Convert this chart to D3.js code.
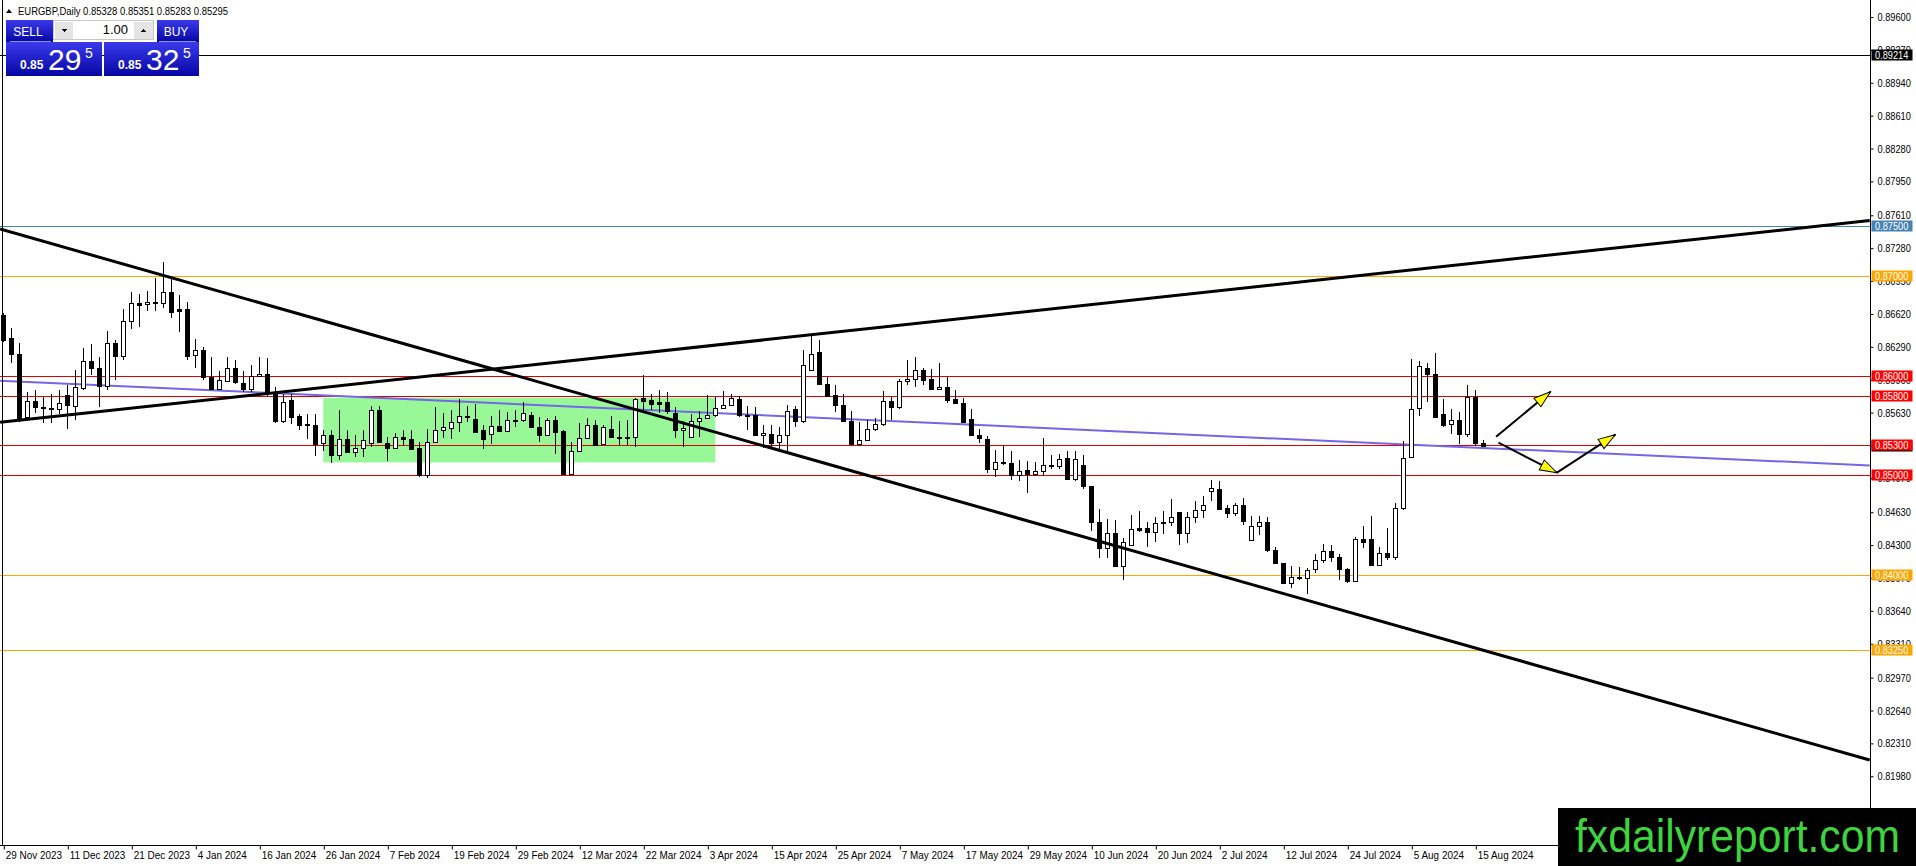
<!DOCTYPE html>
<html>
<head>
<meta charset="utf-8">
<script src="https://cdn.jsdelivr.net/npm/d3@7"></script>
<style>
  body { margin: 0; background: #fff; overflow: hidden; }
  svg { display: block; font-family: "Liberation Sans", Arial, sans-serif; }
</style>
</head>
<body>
<svg id="chart" width="1916" height="866"></svg>
<script>
// ---- data ----
var symbol = "EURGBP,Daily";
var quote = [0.85328, 0.85351, 0.85283, 0.85295];
var sellQuote = ["0.85", "29", "5"];
var buyQuote = ["0.85", "32", "5"];
var lotSize = "1.00";

var dateLabels = ["29 Nov 2023", "11 Dec 2023", "21 Dec 2023", "4 Jan 2024", "16 Jan 2024", "26 Jan 2024",
  "7 Feb 2024", "19 Feb 2024", "29 Feb 2024", "12 Mar 2024", "22 Mar 2024", "3 Apr 2024", "15 Apr 2024",
  "25 Apr 2024", "7 May 2024", "17 May 2024", "29 May 2024", "10 Jun 2024", "20 Jun 2024", "2 Jul 2024",
  "12 Jul 2024", "24 Jul 2024", "5 Aug 2024", "15 Aug 2024"];

var priceTicks = [0.89600, 0.89270, 0.88940, 0.88610, 0.88280, 0.87950, 0.87610, 0.87280, 0.86950,
  0.86620, 0.86290, 0.85960, 0.85630, 0.85300, 0.84970, 0.84630, 0.84300, 0.83970, 0.83640, 0.83310,
  0.82970, 0.82640, 0.82310, 0.81980];

var opens = [0.8661,0.8638,0.8622,0.8559,0.8575,0.8569,0.8568,0.8567,0.8581,0.8570,
  0.8588,0.8615,0.8608,0.8590,0.8633,0.8620,0.8655,0.8673,0.8672,0.8674,
  0.8673,0.8684,0.8667,0.8667,0.8621,0.8626,0.8599,0.8587,0.8595,0.8608,
  0.8593,0.8587,0.8600,0.8602,0.8583,0.8555,0.8576,0.8560,0.8552,0.8551,
  0.8532,0.8541,0.8520,0.8536,0.8523,0.8527,0.8532,0.8566,0.8532,0.8527,
  0.8538,0.8536,0.8527,0.8500,0.8533,0.8546,0.8548,0.8554,0.8560,0.8557,
  0.8546,0.8542,0.8550,0.8545,0.8556,0.8556,0.8561,0.8549,0.8541,0.8556,
  0.8545,0.8501,0.8524,0.8537,0.8551,0.8531,0.8547,0.8538,0.8538,0.8538,
  0.8578,0.8576,0.8574,0.8574,0.8563,0.8546,0.8538,0.8555,0.8558,0.8561,
  0.8568,0.8571,0.8577,0.8561,0.8561,0.8541,0.8542,0.8533,0.8541,0.8567,
  0.8555,0.8606,0.8624,0.8592,0.8581,0.8571,0.8555,0.8531,0.8535,0.8547,
  0.8552,0.8575,0.8569,0.8595,0.8597,0.8606,0.8597,0.8587,0.8589,0.8577,
  0.8573,0.8557,0.8541,0.8536,0.8506,0.8513,0.8512,0.8500,0.8505,0.8501,
  0.8504,0.8510,0.8509,0.8517,0.8496,0.8510,0.8489,0.8453,0.8427,0.8442,
  0.8409,0.8430,0.8447,0.8447,0.8443,0.8452,0.8453,0.8463,0.8442,0.8458,
  0.8465,0.8484,0.8486,0.8467,0.8462,0.8470,0.8435,0.8449,0.8453,0.8425,
  0.8412,0.8392,0.8398,0.8397,0.8406,0.8415,0.8424,0.8418,0.8406,0.8394,
  0.8436,0.8436,0.8410,0.8422,0.8418,0.8467,0.8518,0.8568,0.8608,0.8602,
  0.8562,0.8552,0.8556,0.8542,0.8579,0.85328];
var highs = [0.8663,0.8648,0.8633,0.8584,0.8586,0.8579,0.8582,0.8586,0.8591,0.8606,
  0.8628,0.8632,0.8619,0.8645,0.8636,0.8667,0.8684,0.8682,0.8685,0.8698,
  0.8714,0.8699,0.8681,0.8674,0.8637,0.8629,0.8619,0.8605,0.8619,0.8616,
  0.8605,0.8611,0.8619,0.8618,0.8589,0.8582,0.8582,0.8562,0.8562,0.8562,
  0.8546,0.8546,0.8566,0.8546,0.8541,0.8546,0.8570,0.8570,0.8538,0.8543,
  0.8546,0.8546,0.8533,0.8547,0.8569,0.8563,0.8566,0.8577,0.8570,0.8572,
  0.8551,0.8560,0.8566,0.8564,0.8566,0.8574,0.8564,0.8559,0.8558,0.8560,
  0.8546,0.8533,0.8553,0.8558,0.8556,0.8551,0.8560,0.8555,0.8556,0.8578,
  0.8601,0.8582,0.8586,0.8584,0.8569,0.8555,0.8562,0.8565,0.8581,0.8579,
  0.8585,0.8582,0.8580,0.8570,0.8569,0.8551,0.8551,0.8549,0.8571,0.8570,
  0.8626,0.8642,0.8636,0.8599,0.8591,0.8582,0.8565,0.8554,0.8556,0.8558,
  0.8585,0.8579,0.8597,0.8616,0.8619,0.8608,0.8607,0.8613,0.8599,0.8586,
  0.8578,0.8567,0.8547,0.8540,0.8525,0.8530,0.8524,0.8515,0.8514,0.8513,
  0.8537,0.8520,0.8521,0.8524,0.8524,0.8520,0.8489,0.8466,0.8456,0.8455,
  0.8437,0.8460,0.8464,0.8453,0.8458,0.8464,0.8476,0.8463,0.8463,0.8474,
  0.8479,0.8495,0.8494,0.8470,0.8472,0.8477,0.8459,0.8459,0.8458,0.8428,
  0.8412,0.8409,0.8408,0.8407,0.8421,0.8431,0.8430,0.8421,0.8407,0.8438,
  0.8449,0.8459,0.8428,0.8447,0.8472,0.8534,0.8617,0.8615,0.8613,0.8623,
  0.8577,0.8567,0.8564,0.8591,0.8586,0.85351];
var lows = [0.8634,0.8613,0.8554,0.8557,0.8563,0.8553,0.8553,0.8562,0.8547,0.8556,
  0.8586,0.8601,0.8569,0.8586,0.8596,0.8616,0.8647,0.8649,0.8665,0.8665,
  0.8668,0.8658,0.8644,0.8616,0.8608,0.8596,0.8586,0.8586,0.8595,0.8592,
  0.8584,0.8584,0.8600,0.8579,0.8553,0.8553,0.8552,0.8546,0.8536,0.8519,
  0.8524,0.8512,0.8515,0.8522,0.8518,0.8518,0.8528,0.8532,0.8514,0.8526,
  0.8530,0.8525,0.8498,0.8497,0.8532,0.8537,0.8536,0.8544,0.8554,0.8544,
  0.8526,0.8531,0.8544,0.8544,0.8549,0.8554,0.8548,0.8533,0.8539,0.8521,
  0.8501,0.8501,0.8523,0.8536,0.8530,0.8530,0.8537,0.8530,0.8530,0.8528,
  0.8566,0.8566,0.8563,0.8562,0.8537,0.8528,0.8537,0.8538,0.8557,0.8559,
  0.8567,0.8570,0.8559,0.8546,0.8539,0.8527,0.8527,0.8526,0.8521,0.8549,
  0.8553,0.8605,0.8591,0.8579,0.8564,0.8554,0.8530,0.8529,0.8534,0.8545,
  0.8550,0.8556,0.8567,0.8591,0.8589,0.8591,0.8586,0.8586,0.8573,0.8572,
  0.8553,0.8540,0.8532,0.8502,0.8498,0.8510,0.8495,0.8494,0.8482,0.8499,
  0.8499,0.8506,0.8506,0.8495,0.8494,0.8486,0.8444,0.8417,0.8417,0.8409,
  0.8395,0.8429,0.8443,0.8428,0.8433,0.8441,0.8449,0.8430,0.8432,0.8452,
  0.8457,0.8474,0.8465,0.8457,0.8459,0.8450,0.8434,0.8440,0.8423,0.8411,
  0.8391,0.8387,0.8395,0.8381,0.8402,0.8412,0.8413,0.8395,0.8392,0.8393,
  0.8427,0.8410,0.8409,0.8415,0.8415,0.8465,0.8517,0.8560,0.8574,0.8558,
  0.8549,0.8542,0.8531,0.8538,0.8529,0.85283];
var closes = [0.8636,0.8622,0.8556,0.8575,0.8569,0.8568,0.8567,0.8573,0.8571,0.8589,
  0.8615,0.8608,0.8590,0.8633,0.8620,0.8655,0.8673,0.8671,0.8674,0.8673,
  0.8684,0.8664,0.8665,0.8620,0.8626,0.8599,0.8587,0.8596,0.8608,0.8594,
  0.8587,0.8600,0.8602,0.8584,0.8555,0.8574,0.8559,0.8551,0.8551,0.8531,
  0.8541,0.8520,0.8536,0.8523,0.8527,0.8535,0.8566,0.8533,0.8527,0.8538,
  0.8536,0.8526,0.8500,0.8533,0.8546,0.8549,0.8554,0.8560,0.8559,0.8544,
  0.8536,0.8550,0.8545,0.8556,0.8555,0.8563,0.8549,0.8541,0.8556,0.8544,
  0.8501,0.8524,0.8537,0.8551,0.8530,0.8549,0.8538,0.8537,0.8537,0.8577,
  0.8575,0.8572,0.8572,0.8565,0.8546,0.8548,0.8555,0.8558,0.8561,0.8568,
  0.8571,0.8578,0.8561,0.8560,0.8541,0.8543,0.8532,0.8541,0.8565,0.8555,
  0.8611,0.8622,0.8592,0.8580,0.8571,0.8555,0.8531,0.8535,0.8547,0.8552,
  0.8575,0.8569,0.8595,0.8597,0.8606,0.8596,0.8587,0.8589,0.8576,0.8573,
  0.8554,0.8541,0.8537,0.8506,0.8513,0.8512,0.8500,0.8504,0.8501,0.8504,
  0.8510,0.8510,0.8516,0.8496,0.8516,0.8489,0.8453,0.8427,0.8442,0.8409,
  0.8433,0.8446,0.8445,0.8443,0.8452,0.8453,0.8458,0.8442,0.8458,0.8465,
  0.8470,0.8487,0.8466,0.8462,0.8470,0.8454,0.8449,0.8453,0.8425,0.8412,
  0.8392,0.8398,0.8397,0.8405,0.8415,0.8424,0.8418,0.8406,0.8394,0.8436,
  0.8433,0.8410,0.8422,0.8418,0.8467,0.8517,0.8567,0.8610,0.8602,0.8559,
  0.8551,0.8556,0.8542,0.8579,0.8532,0.85295];

// horizontal levels, grouped by line colour
var blackLevels = [0.89214];
var blueLevels = [0.87500];
var orangeLevels = [0.87000, 0.84000, 0.83250];
var redLevels = [0.86000, 0.85800, 0.85300, 0.85000];

// trend lines as [bar index, price] end points (bar 0 = 29 Nov 2023)
var fallingLine = [[-0.4, 0.87472], [233.3, 0.82143]];
var risingLine = [[-0.4, 0.85532], [233.3, 0.87558]];
var blueLine = [[-0.4, 0.85950], [233.3, 0.85099]];
var rangeBars = [40, 89];
var rangePrices = [0.8578, 0.8513];
var arrowUp = [[186.6, 0.85388], [193.4, 0.85840]];
var arrowDownUp = [[186.9, 0.85328], [194.2, 0.85027], [201.5, 0.85408]];

// ---- drawing ----
var W = 1916, H = 866, plotR = 1870, plotB = 845;
var svg = d3.select("#chart");

var x = d3.scaleLinear().domain([-0.4125, 233.3375]).range([0, plotR]);
var y = d3.scaleLinear().domain([0.81290, 0.89771]).range([plotB, 0]);

// the terminal font is narrower than Arial, squeeze texts to match
function narrow(sel, f) {
  sel.each(function () {
    var w = this.getComputedTextLength();
    d3.select(this).attr("textLength", w * f).attr("lengthAdjust", "spacingAndGlyphs");
  });
}

var defs = svg.append("defs");
defs.append("clipPath").attr("id", "plot")
  .append("rect").attr("x", 0).attr("y", 0).attr("width", plotR).attr("height", plotB);
defs.append("marker").attr("id", "head")
  .attr("viewBox", "-1 -7 19 14").attr("refX", 17).attr("refY", 0)
  .attr("markerWidth", 19).attr("markerHeight", 14)
  .attr("markerUnits", "userSpaceOnUse").attr("orient", "auto")
  .append("path").attr("d", "M0,-5.5L17,0L0,5.5Z")
  .attr("fill", "#ffff00").attr("stroke", "#000").attr("stroke-width", 1);
var grad = defs.append("linearGradient").attr("id", "btn").attr("x1", 0).attr("y1", 0).attr("x2", 0).attr("y2", 1);
grad.append("stop").attr("offset", "0%").attr("stop-color", "#3a3aec");
grad.append("stop").attr("offset", "100%").attr("stop-color", "#0606a4");

var plot = svg.append("g").attr("clip-path", "url(#plot)");

// consolidation box
plot.append("rect")
  .attr("x", x(rangeBars[0])).attr("y", y(rangePrices[0]))
  .attr("width", x(rangeBars[1]) - x(rangeBars[0]))
  .attr("height", y(rangePrices[1]) - y(rangePrices[0]))
  .attr("fill", "#98f898");

// horizontal levels
function levels(vals, color) {
  plot.selectAll(null).data(vals).enter().append("line")
    .attr("x1", 0).attr("x2", plotR)
    .attr("y1", function (d) { return Math.round(y(d)) + 0.5; })
    .attr("y2", function (d) { return Math.round(y(d)) + 0.5; })
    .attr("stroke", color).attr("stroke-width", 1);
}
levels(blackLevels, "#000");
levels(blueLevels, "#4682b4");
levels(orangeLevels, "#ffa500");
levels(redLevels, "#e00000");

// sloped lines
var seg = d3.line().x(function (d) { return x(d[0]); }).y(function (d) { return y(d[1]); });
plot.append("path").attr("d", seg(blueLine)).attr("fill", "none")
  .attr("stroke", "#7466e6").attr("stroke-width", 2);

// candles
var idx = d3.range(opens.length);
var candles = plot.append("g").attr("shape-rendering", "crispEdges");
var c = candles.selectAll("g").data(idx).enter().append("g");
c.append("line")
  .attr("x1", function (i) { return Math.round(x(i)) + 0.5; })
  .attr("x2", function (i) { return Math.round(x(i)) + 0.5; })
  .attr("y1", function (i) { return y(highs[i]); })
  .attr("y2", function (i) { return y(lows[i]); })
  .attr("stroke", "#000");
c.append("rect")
  .attr("x", function (i) { return Math.round(x(i)) - 1.5; })
  .attr("width", 4)
  .attr("y", function (i) { return Math.round(y(Math.max(opens[i], closes[i]))) + 0.5; })
  .attr("height", function (i) {
    return Math.max(1, Math.round(y(Math.min(opens[i], closes[i]))) - Math.round(y(Math.max(opens[i], closes[i]))));
  })
  .attr("fill", function (i) { return closes[i] >= opens[i] ? "#fff" : "#000"; })
  .attr("stroke", "#000");

plot.append("path").attr("d", seg(fallingLine)).attr("fill", "none")
  .attr("stroke", "#000").attr("stroke-width", 3);
plot.append("path").attr("d", seg(risingLine)).attr("fill", "none")
  .attr("stroke", "#000").attr("stroke-width", 3);

// projection arrows
plot.append("path").attr("d", seg(arrowUp)).attr("stroke", "#000")
  .attr("stroke-width", 2).attr("marker-end", "url(#head)");
plot.append("path").attr("d", seg(arrowDownUp.slice(0, 2))).attr("stroke", "#000")
  .attr("stroke-width", 2).attr("marker-end", "url(#head)");
plot.append("path").attr("d", seg(arrowDownUp.slice(1, 3))).attr("stroke", "#000")
  .attr("stroke-width", 2).attr("marker-end", "url(#head)");

// frame
svg.append("line").attr("x1", 2.5).attr("x2", 2.5).attr("y1", 0).attr("y2", plotB).attr("stroke", "#000");
svg.append("line").attr("x1", plotR + 0.5).attr("x2", plotR + 0.5).attr("y1", 0).attr("y2", H).attr("stroke", "#000");

// price axis
var yAxis = d3.axisRight(y).tickValues(priceTicks).tickFormat(d3.format(".5f")).tickSize(3).tickPadding(4);
var ya = svg.append("g").attr("transform", "translate(" + (plotR + 0.5) + ",0)").call(yAxis);
ya.select(".domain").remove();
ya.selectAll("text").attr("font-size", 11).attr("fill", "#000").attr("font-family", null);
narrow(ya.selectAll("text"), 0.84);

// time axis
var xAxis = d3.axisBottom(x).tickValues(d3.range(0, dateLabels.length * 8, 8))
  .tickFormat(function (d, i) { return dateLabels[i]; }).tickSize(4);
var xa = svg.append("g").attr("transform", "translate(0," + (plotB + 0.5) + ")").call(xAxis);
xa.select(".domain").attr("d", "M0,0H" + plotR);
xa.selectAll(".tick line").attr("transform", "translate(0.5,0)");
xa.selectAll("text").attr("text-anchor", "start").attr("x", 2).attr("y", 6)
  .attr("font-size", 11).attr("fill", "#000").attr("font-family", null);
narrow(xa.selectAll("text"), 0.9);

// level labels on the price scale
function tag(v, bg) {
  var ty = Math.round(y(v));
  svg.append("rect").attr("x", plotR + 1.5).attr("y", ty - 5.5).attr("width", 41).attr("height", 11).attr("fill", bg);
  var t = svg.append("text").attr("x", plotR + 5).attr("y", ty + 4).attr("font-size", 11)
    .attr("fill", "#fff").text(d3.format(".5f")(v));
  narrow(t, 0.84);
}
blackLevels.forEach(function (v) { tag(v, "#000"); });
blueLevels.forEach(function (v) { tag(v, "#4682b4"); });
orangeLevels.forEach(function (v) { tag(v, "#ffa500"); });
tag(quote[3], "#000");
redLevels.forEach(function (v) { tag(v, "#ff0000"); });

// title line
svg.append("path").attr("d", "M6,13L12,13L9,9Z").attr("fill", "#000");
svg.append("text").attr("x", 18).attr("y", 15).attr("font-size", 11).attr("fill", "#000")
  .attr("textLength", 210).attr("lengthAdjust", "spacingAndGlyphs")
  .text(symbol + "  " + quote.map(d3.format(".5f")).join(" "));

// one-click trading panel
var panel = svg.append("g").attr("shape-rendering", "crispEdges");
panel.append("rect").attr("x", 6).attr("y", 20).attr("width", 47).attr("height", 22).attr("fill", "url(#btn)");
panel.append("rect").attr("x", 157).attr("y", 20).attr("width", 42).attr("height", 22).attr("fill", "url(#btn)");
panel.append("rect").attr("x", 6).attr("y", 42).attr("width", 96).attr("height", 34).attr("fill", "url(#btn)");
panel.append("rect").attr("x", 104).attr("y", 42).attr("width", 95).attr("height", 34).attr("fill", "url(#btn)");
panel.append("line").attr("x1", 10).attr("x2", 51).attr("y1", 41.5).attr("y2", 41.5).attr("stroke", "#8f8ff0");
panel.append("line").attr("x1", 159).attr("x2", 196).attr("y1", 41.5).attr("y2", 41.5).attr("stroke", "#8f8ff0");
panel.append("rect").attr("x", 53.5).attr("y", 20.5).attr("width", 100).attr("height", 19)
  .attr("fill", "#fff").attr("stroke", "#c8c8c8");
panel.append("rect").attr("x", 54.5).attr("y", 21.5).attr("width", 18).attr("height", 17).attr("fill", "#e4e4e4");
panel.append("rect").attr("x", 133.5).attr("y", 21.5).attr("width", 19).attr("height", 17).attr("fill", "#e4e4e4");
panel.append("path").attr("d", "M61,29L67,29L64,32Z").attr("fill", "#000");
panel.append("path").attr("d", "M140,32L146,32L143,29Z").attr("fill", "#000");
svg.append("text").attr("x", 128).attr("y", 34).attr("text-anchor", "end").attr("font-size", 13)
  .text(lotSize);
svg.append("text").attr("x", 28).attr("y", 36).attr("text-anchor", "middle").attr("font-size", 12)
  .attr("fill", "#fff").text("SELL");
svg.append("text").attr("x", 176).attr("y", 36).attr("text-anchor", "middle").attr("font-size", 12)
  .attr("fill", "#fff").text("BUY");

function priceBox(q, x0) {
  var g = svg.append("g").attr("fill", "#fff");
  g.append("text").attr("x", x0).attr("y", 69).attr("font-size", 12).attr("font-weight", "bold").text(q[0]);
  g.append("text").attr("x", x0 + 28).attr("y", 70).attr("font-size", 30).text(q[1]);
  g.append("text").attr("x", x0 + 65).attr("y", 58).attr("font-size", 14).text(q[2]);
}
priceBox(sellQuote, 20);
priceBox(buyQuote, 118);

// watermark
svg.append("rect").attr("x", 1558).attr("y", 808).attr("width", W - 1558).attr("height", H - 808).attr("fill", "#000");
svg.append("text").attr("x", 1575).attr("y", 852).attr("font-size", 47)
  .attr("textLength", 325).attr("lengthAdjust", "spacingAndGlyphs")
  .attr("fill", "#3ed43e").text("fxdailyreport.com");
</script>
</body>
</html>
